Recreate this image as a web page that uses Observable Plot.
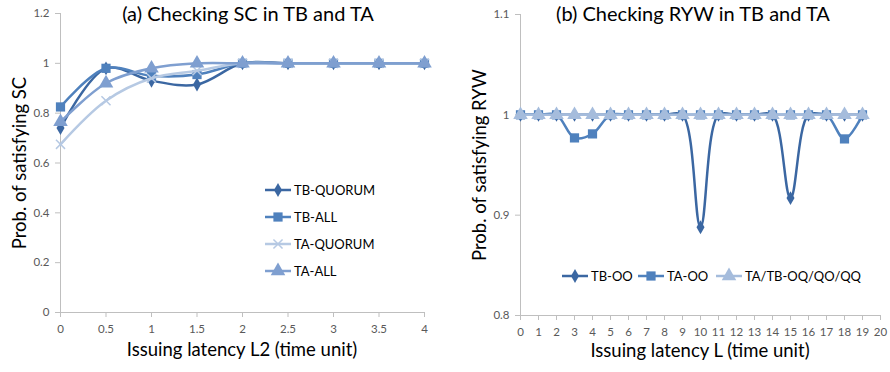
<!DOCTYPE html>
<html><head><meta charset="utf-8">
<script src="https://cdn.jsdelivr.net/npm/d3@7"></script>
<script src="https://cdn.jsdelivr.net/npm/@observablehq/plot@0.6"></script>
<style>
html,body{margin:0;padding:0;background:#fff;}
body{width:890px;height:372px;position:relative;overflow:hidden;font-family:Lato,"Open Sans",sans-serif;}
.abs{position:absolute;white-space:nowrap;color:#000;}
.title{font-size:20px;transform:translateX(-50%);}
.xlab{font-size:18.5px;transform:translateX(-50%);}
.ylab{font-size:18.5px;transform:translate(-50%,-50%) rotate(-90deg);}
.leg{font-size:13px;display:flex;align-items:center;}
.leg svg{margin-right:2px;}
</style></head>
<body>
<div id="a" class="abs" style="left:0;top:0"></div>
<div id="b" class="abs" style="left:445px;top:0"></div>
<script>
// ---- data (a) ----
const xA = [0, 0.5, 1, 1.5, 2, 2.5, 3, 3.5, 4];
const xATicks = [0, 0.5, 1, 1.5, 2, 2.5, 3, 3.5, 4];
const xATickLabels = ["0", "0.5", "1", "1.5", "2", "2.5", "3", "3.5", "4"];
const yATicks = [0, 0.2, 0.4, 0.6, 0.8, 1, 1.2];
const yATickLabels = ["0", "0.2", "0.4", "0.6", "0.8", "1", "1.2"];
const seriesA = ["TB-QUORUM", "TB-ALL", "TA-QUORUM", "TA-ALL"];
const tbQuorum = [0.74, 0.98, 0.93, 0.915, 1, 1, 1, 1, 1];
const tbAll = [0.825, 0.98, 0.95, 0.955, 1, 1, 1, 1, 1];
const taQuorum = [0.675, 0.85, 0.94, 0.97, 1, 1, 1, 1, 1];
const taAll = [0.765, 0.92, 0.98, 1.0, 1, 1, 1, 1, 1];

// ---- data (b) ----
const xB = [0,1,2,3,4,5,6,7,8,9,10,11,12,13,14,15,16,17,18,19];
const xBTicks = [0,1,2,3,4,5,6,7,8,9,10,11,12,13,14,15,16,17,18,19,20];
const yBTicks = [0.8, 0.9, 1, 1.1];
const yBTickLabels = ["0.8", "0.9", "1", "1.1"];
const seriesB = ["TB-OO", "TA-OO", "TA/TB-OQ/QO/QQ"];
const tbOO = [1,1,1,1,1,1,1,1,1,1,0.888,1,1,1,1,0.917,1,1,1,1];
const taOO = [1,1,1,0.977,0.981,1,1,1,1,1,1,1,1,1,1,1,1,1,0.976,1];
const taTbOQ = [1,1,1,1,1,1,1,1,1,1,1,1,1,1,1,1,1,1,1,1];

// styles
const C1 = "#3b67a2", C2 = "#4f81bd", C3 = "#b6c9e3", C4 = "#7f9fd0", C5 = "#a5bcdc";
const axisGray = "#bfbfbf", tickText = "#595959";

function rows(xs, ys) { return xs.map((x, i) => ({x, y: ys[i]})); }

const styleA = [
  {data: rows(xA, tbQuorum), color: C1, symbol: "diamond", r: 4.2, fill: true},
  {data: rows(xA, tbAll), color: C2, symbol: "square", r: 5.2, fill: true},
  {data: rows(xA, taQuorum), color: C3, symbol: "times", r: 4.2, fill: false},
  {data: rows(xA, taAll), color: C4, symbol: "triangle", r: 5.4, fill: true}
];
const styleB = [
  {data: rows(xB, tbOO), color: C1, symbol: "diamond", r: 4.2, fill: true},
  {data: rows(xB, taOO), color: C2, symbol: "square", r: 5.2, fill: true},
  {data: rows(xB, taTbOQ), color: C5, symbol: "triangle", r: 5.4, fill: true}
];

function seriesMarks(st) {
  const m = [];
  for (const s of st) {
    m.push(Plot.line(s.data, {x: "x", y: "y", stroke: s.color, strokeWidth: 2.5, curve: "catmull-rom"}));
    m.push(Plot.dot(s.data, {x: "x", y: "y", symbol: () => s.symbol, r: s.r,
      fill: s.fill ? s.color : "none", stroke: s.color, strokeWidth: s.fill ? 0 : 1.5}));
  }
  return m;
}

const fmtA = (d) => yATickLabels[yATicks.findIndex(t => Math.abs(t - d) < 1e-9)];
const fmtB = (d) => yBTickLabels[yBTicks.findIndex(t => Math.abs(t - d) < 1e-9)];

const chartA = Plot.plot({
  width: 445, height: 372,
  marginLeft: 60, marginRight: 21, marginTop: 13, marginBottom: 60,
  style: {fontFamily: "Lato, 'Open Sans', sans-serif", fontSize: "11.5px", color: tickText, background: "none", overflow: "visible"},
  x: {domain: [0, 4], label: null},
  y: {domain: [0, 1.2], label: null},
  marks: [
    Plot.axisX({ticks: xATicks, tickSize: 0, tickPadding: 12, tickFormat: (d) => xATickLabels[xATicks.indexOf(d)], label: null, fill: tickText}),
    Plot.ruleX(xATicks, {x: d => d, y1: 0, y2: 0, stroke: axisGray, insetBottom: -5}),
    Plot.axisY({ticks: yATicks, tickSize: 5, tickPadding: 6, stroke: axisGray, tickFormat: fmtA, label: null, fill: tickText}),
    Plot.ruleX([0], {stroke: axisGray}),
    Plot.ruleY([0], {stroke: axisGray}),
    ...seriesMarks(styleA)
  ]
});
document.getElementById("a").appendChild(chartA);

const chartB = Plot.plot({
  width: 445, height: 372,
  marginLeft: 75, marginRight: 10, marginTop: 14, marginBottom: 57,
  style: {fontFamily: "Lato, 'Open Sans', sans-serif", fontSize: "11.5px", color: tickText, background: "none", overflow: "visible"},
  x: {domain: [0, 20], label: null},
  y: {domain: [0.8, 1.1], label: null},
  marks: [
    Plot.axisX({ticks: xBTicks, tickSize: 0, tickPadding: 12, tickFormat: d => String(d), label: null, fill: tickText}),
    Plot.ruleX(xBTicks, {x: d => d, y1: 0.8, y2: 0.8, stroke: axisGray, insetBottom: -5}),
    Plot.axisY({ticks: yBTicks, tickSize: 5, tickPadding: 6, stroke: axisGray, tickFormat: fmtB, label: null, fill: tickText}),
    Plot.ruleX([0], {stroke: axisGray}),
    Plot.ruleY([0.8], {stroke: axisGray}),
    ...seriesMarks(styleB)
  ]
});
document.getElementById("b").appendChild(chartB);

// ---- titles / labels ----
function addText(cls, txt, left, top) {
  const d = document.createElement("div");
  d.className = "abs " + cls;
  d.textContent = txt;
  d.style.left = left + "px";
  d.style.top = top + "px";
  document.body.appendChild(d);
  return d;
}
addText("title", "(a) Checking SC in TB and TA", 248, 1);
addText("title", "(b) Checking RYW in TB and TA", 693, 1);
addText("xlab", "Issuing latency L2 (time unit)", 242, 338);
addText("xlab", "Issuing latency L (time unit)", 700, 339);
addText("ylab", "Prob. of satisfying SC", 19, 163);
addText("ylab", "Prob. of satisfying RYW", 479, 165);

function legendItem(st, label, left, top) {
  const d = document.createElement("div");
  d.className = "abs leg";
  d.style.left = left + "px";
  d.style.top = (top - 9) + "px";
  const svg = d3.create("svg").attr("width", 27).attr("height", 18);
  svg.append("line").attr("x1", 0).attr("x2", 26).attr("y1", 9).attr("y2", 9)
    .attr("stroke", st.color).attr("stroke-width", 2.5);
  const size = Math.PI * st.r * st.r;
  const sym = st.symbol === "diamond" ? d3.symbolDiamond : st.symbol === "square" ? d3.symbolSquare : st.symbol === "triangle" ? d3.symbolTriangle : d3.symbolTimes;
  svg.append("path").attr("transform", "translate(13,9)")
    .attr("d", d3.symbol(sym, size)())
    .attr("fill", st.fill ? st.color : "none").attr("stroke", st.fill ? "none" : st.color).attr("stroke-width", 1.5);
  d.appendChild(svg.node());
  const t = document.createElement("span");
  t.textContent = label;
  d.appendChild(t);
  document.body.appendChild(d);
}
const legATop = [190, 217, 244, 271];
seriesA.forEach((s, i) => legendItem(styleA[i], s, 265, legATop[i]));
const legBLeft = [562, 638, 716];
seriesB.forEach((s, i) => legendItem(styleB[i], s, legBLeft[i], 276));
</script>
</body></html>
